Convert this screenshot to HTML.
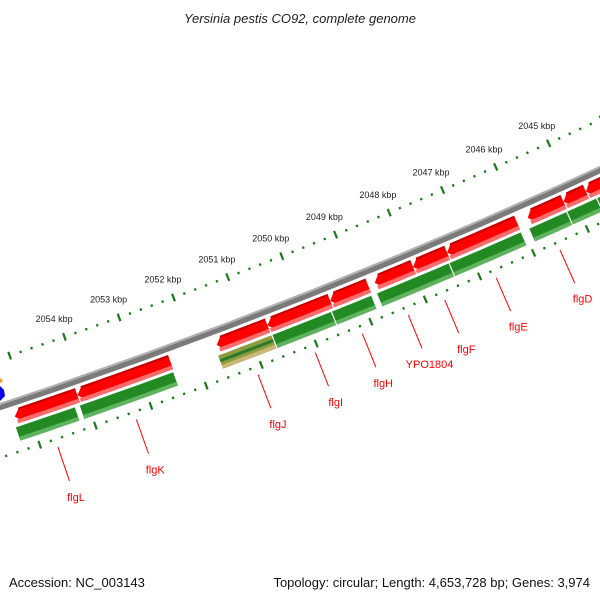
<!DOCTYPE html>
<html><head><meta charset="utf-8"><style>
body{margin:0;background:#fff;width:600px;height:600px;overflow:hidden}
svg{display:block;font-family:"Liberation Sans",sans-serif}
</style></head><body>
<svg id="map" width="600" height="600" viewBox="0 0 600 600">
<text x="300" y="23" text-anchor="middle" font-size="13" font-style="italic" fill="#222">Yersinia pestis CO92, complete genome</text>
<text x="9" y="587" font-size="13" fill="#111">Accession: NC_003143</text>
<text x="590" y="587" text-anchor="end" font-size="13" fill="#111">Topology: circular; Length: 4,653,728 bp; Genes: 3,974</text>
<g id="g"></g>
</svg>
<script>
// data (kbp)
const redStart=[2055.25,2054.12,2051.59,2050.66,2049.51,2048.69,2047.98,2047.35,2045.85,2045.18,2044.76];
const redEnd=[2054.12,2052.43,2050.66,2049.51,2048.81,2047.98,2047.35,2046.05,2045.18,2044.76,2044.0];
const greenStart=[2055.29,2054.14,2051.63,2050.64,2049.55,2048.72,2047.38,2045.90,2045.19,2044.63];
const greenEnd=[2054.21,2052.43,2050.64,2049.55,2048.81,2047.38,2046.04,2045.19,2044.63,2044.0];
const geneNames=["flgL","flgK","flgJ","flgI","flgH","YPO1804","flgF","flgE","flgD"];
const genePos=[2054.72,2053.31,2051.11,2050.07,2049.21,2048.37,2047.70,2046.75,2045.57];
const tickLabels=[2045,2046,2047,2048,2049,2050,2051,2052,2053,2054];

const NS="http://www.w3.org/2000/svg";
const G=document.getElementById('g');
const CX=-1861,CY=-5183;
function pt(k,r){const a=(70.77+(k-2054)*0.568)*Math.PI/180;return [CX+r*Math.cos(a),CY+r*Math.sin(a)];}
function mk(tag,attrs){const e=document.createElementNS(NS,tag);for(const k in attrs)e.setAttribute(k,attrs[k]);G.appendChild(e);return e;}
function band(k1,k2,r1,r2,fill,arrow){
  const n=8,pts=[];
  let a1=k1,head=arrow?0.12:0;
  for(let i=0;i<=n;i++){pts.push(pt(a1-head+(k2-a1+head)*i/n,r1));}
  for(let i=n;i>=0;i--){pts.push(pt(a1-head+(k2-a1+head)*i/n,r2));}
  if(arrow){pts.push(pt(a1,(r1+r2)/2));}
  return mk('polygon',{points:pts.map(p=>p[0].toFixed(2)+','+p[1].toFixed(2)).join(' '),fill:fill});
}
// backbone
let e;
e=band(2056,2043.5,5888,5895,'#7a7a7a',false);


e=band(2056,2043.5,5888,5890,'#b0b0b0',false);


// ticks
for(let k=2043.6;k<=2056.01;k+=0.2){
  const kk=Math.round(k*10)/10;const major=Math.abs(kk-Math.round(kk))<0.01;
  [[5846,'outer'],[5940,'inner']].forEach(([r,nm])=>{
    const len=major?4:1.2;const p1=pt(kk,r-len),p2=pt(kk,r+len);
    e=mk('line',{x1:p1[0],y1:p1[1],x2:p2[0],y2:p2[1],stroke:'#1a7a1a','stroke-width':2.2});
    
    
  });
}
tickLabels.forEach(t=>{const p=pt(t,5827);
  e=mk('text',{x:p[0]-4,y:p[1]+3,'text-anchor':'middle','font-size':'9',fill:'#222'});
  e.textContent=t+' kbp';
  
  
});
// red features
redStart.forEach((s,i)=>{
  e=band(s,redEnd[i],5898,5913,'#f00',true);
  
  
  e=band(s-0.02,redEnd[i],5909,5913,'#ff6a6a',false);
  
  
  e=band(s-0.1,redEnd[i],5898,5900,'#c40000',false);
  
  
});
// green features
greenStart.forEach((s,i)=>{
  const olive=(i===2);
  e=band(s,greenEnd[i]+0.02,5916,5930,olive?'#8c9c3c':'#238a23',false);
  
  
  e=band(s,greenEnd[i]+0.02,5926,5930,olive?'#c8b878':'#5fb35f',false);
  
  
  if(olive){e=band(s,greenEnd[i]+0.02,5920,5923,'#2a7a2a',false);
    
    }
});
// gene labels
geneNames.forEach((n,i)=>{
  const p1=pt(genePos[i],5948),p2=pt(genePos[i],5984),p3=pt(genePos[i],6001);
  e=mk('line',{x1:p1[0],y1:p1[1],x2:p2[0],y2:p2[1],stroke:'#f00','stroke-width':1});
  
  
  e=mk('text',{x:p3[0]+1,y:p3[1]+4,'text-anchor':'middle','font-size':'11',fill:'#f00'});
  e.textContent=n;
  
  
});
// partial features at left edge
e=mk('polygon',{points:'0,386 4,390 5,396 0,401',fill:'#0000ff'});


e=mk('polygon',{points:'0,378 3,380 1,383 0,383',fill:'#f0a030'});


</script>
</body></html>
